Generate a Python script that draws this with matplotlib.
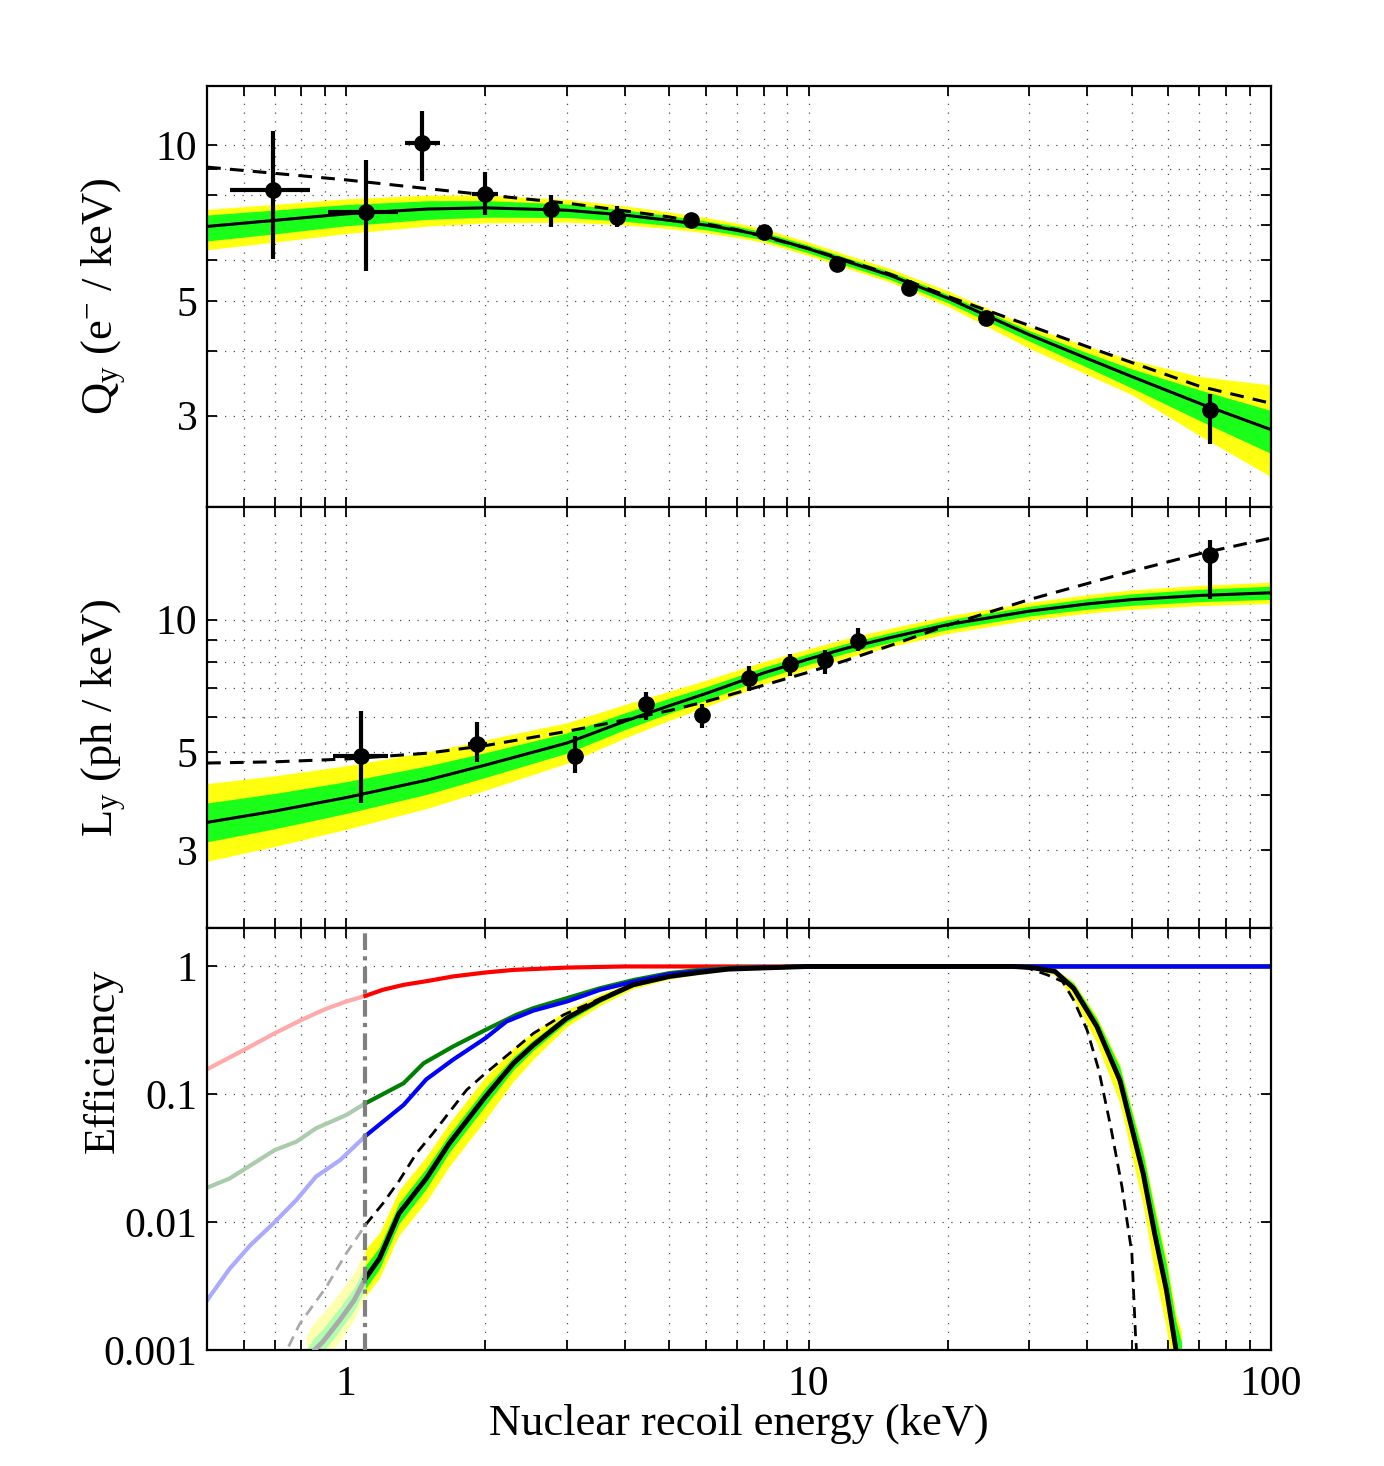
import numpy as np
import matplotlib
matplotlib.use('Agg')
import matplotlib.pyplot as plt

plt.rcParams['font.family'] = ['Liberation Serif', 'DejaVu Serif']
plt.rcParams['mathtext.fontset'] = 'custom'
plt.rcParams['mathtext.rm'] = 'Liberation Serif'
plt.rcParams['mathtext.it'] = 'Liberation Serif:italic'
plt.rcParams['font.size'] = 32

# ---------------- charge yield Qy ----------------
qy_x = [0.696, 1.105, 1.461, 2.0, 2.766, 3.857, 5.56, 8.0, 11.49, 16.5, 24.2, 73.9]
qy_y = [8.19, 7.41, 10.10, 8.03, 7.51, 7.27, 7.17, 6.80, 5.89, 5.29, 4.63, 3.08]
qy_ylo = [6.03, 5.72, 8.50, 7.33, 6.93, 6.93, 6.95, 6.65, 5.78, 5.20, 4.55, 2.65]
qy_yhi = [10.66, 9.36, 11.65, 8.88, 8.01, 7.63, 7.40, 6.95, 6.00, 5.38, 4.72, 3.31]
qy_xlo = [0.561, 0.913, 1.338, 1.866, 2.66, 3.74, 5.56, 8.0, 11.49, 16.5, 24.2, 73.9]
qy_xhi = [0.836, 1.294, 1.598, 2.13, 2.87, 3.97, 5.56, 8.0, 11.49, 16.5, 24.2, 73.9]

qy_fit_x = [0.5, 0.7, 1, 1.5, 2, 3, 4, 5, 6, 7, 8, 10, 12, 15, 20, 30, 40, 50, 70, 100]
qy_fit = [6.96, 7.15, 7.36, 7.52, 7.56, 7.48, 7.32, 7.15, 7.00, 6.84, 6.68, 6.30, 5.97,
          5.60, 5.06, 4.30, 3.87, 3.57, 3.17, 2.82]
# band edges as offsets from the fit, in decades
qy_y2_up = [0.033, 0.031, 0.029, 0.027, 0.025, 0.021, 0.018, 0.016, 0.015, 0.014, 0.013,
            0.013, 0.013, 0.013, 0.014, 0.016, 0.024, 0.032, 0.052, 0.086]
qy_y2_dn = [0.045, 0.042, 0.038, 0.033, 0.029, 0.023, 0.019, 0.016, 0.015, 0.014, 0.013,
            0.013, 0.013, 0.013, 0.016, 0.026, 0.031, 0.035, 0.062, 0.091]
qy_g_up = [0.022, 0.020, 0.018, 0.016, 0.014, 0.012, 0.010, 0.009, 0.008, 0.008, 0.007,
           0.007, 0.007, 0.007, 0.007, 0.008, 0.011, 0.015, 0.026, 0.037]
qy_g_dn = [0.028, 0.026, 0.023, 0.020, 0.018, 0.014, 0.012, 0.010, 0.009, 0.009, 0.008,
           0.008, 0.008, 0.008, 0.009, 0.012, 0.017, 0.022, 0.033, 0.046]
qy_dash_x = [0.5, 1, 2, 3, 4, 5, 7, 10, 15, 20, 30, 40, 50, 70, 100]
qy_dash = [9.06, 8.56, 8.01, 7.72, 7.46, 7.26, 6.86, 6.31, 5.63, 5.10, 4.48, 4.08, 3.80,
           3.42, 3.17]

# ---------------- light yield Ly ----------------
ly_x = [1.078, 1.922, 3.13, 4.45, 5.88, 7.43, 9.11, 10.87, 12.76, 73.9]
ly_y = [4.90, 5.22, 4.90, 6.45, 6.09, 7.37, 7.93, 8.09, 8.93, 14.04]
ly_ylo = [3.84, 4.75, 4.50, 5.93, 5.68, 6.88, 7.46, 7.54, 8.47, 11.16]
ly_yhi = [6.19, 5.85, 5.44, 6.84, 6.42, 7.86, 8.36, 8.55, 9.57, 15.14]
ly_xlo = [0.936, 1.83, 3.03, 4.45, 5.88, 7.43, 9.11, 10.87, 12.76, 73.9]
ly_xhi = [1.231, 2.02, 3.24, 4.45, 5.88, 7.43, 9.11, 10.87, 12.76, 73.9]

ly_fit_x = [0.5, 0.7, 1, 1.5, 2, 3, 4, 5, 6, 8, 10, 12, 15, 20, 30, 40, 50, 70, 100]
ly_fit = [3.47, 3.68, 3.95, 4.33, 4.68, 5.25, 5.88, 6.38, 6.80, 7.57, 8.14, 8.60, 9.10,
          9.74, 10.45, 10.85, 11.10, 11.34, 11.50]
ly_w2 = [0.088, 0.080, 0.072, 0.064, 0.057, 0.046, 0.038, 0.033, 0.030, 0.026, 0.023,
         0.022, 0.021, 0.020, 0.020, 0.021, 0.022, 0.023, 0.024]
ly_w1 = [0.044, 0.040, 0.036, 0.032, 0.028, 0.023, 0.019, 0.017, 0.015, 0.013, 0.012,
         0.011, 0.011, 0.011, 0.011, 0.012, 0.013, 0.014, 0.015]
ly_dash_x = [0.5, 0.7, 1, 1.5, 2, 3, 4, 5, 6, 8, 10, 12, 15, 20, 30, 50, 70, 100]
ly_dash = [4.73, 4.76, 4.83, 4.98, 5.18, 5.58, 5.92, 6.22, 6.52, 7.10, 7.60, 8.07, 8.73,
           9.71, 11.10, 12.87, 14.10, 15.30]

# ---------------- efficiencies ----------------
thr = 1.1
red_x = [0.5, 0.6, 0.7, 0.8, 0.9, 1.0, 1.1, 1.2, 1.33, 1.5, 1.7, 2, 2.3, 3, 4, 100]
red_y = [0.157, 0.222, 0.30, 0.382, 0.463, 0.532, 0.589, 0.657, 0.718, 0.77, 0.835, 0.897,
         0.94, 0.98, 1.0, 1.0]
grn_x = [0.5, 0.56, 0.63, 0.7, 0.78, 0.86, 1.0, 1.1, 1.33, 1.47, 1.7, 2.0, 2.33, 2.54, 3.0,
         3.54, 4.2, 5, 5.8, 7, 10, 100]
grn_y = [0.0186, 0.022, 0.0288, 0.0366, 0.0426, 0.0542, 0.0689, 0.085, 0.122, 0.175, 0.236,
         0.319, 0.418, 0.472, 0.565, 0.676, 0.786, 0.887, 0.94, 0.98, 1.0, 1.0]
blu_x = [0.5, 0.56, 0.62, 0.69, 0.78, 0.86, 0.97, 1.1, 1.33, 1.49, 1.7, 2.0, 2.22, 2.54, 3.0,
         3.54, 4.2, 5, 6, 7, 10, 100]
blu_y = [0.00245, 0.00434, 0.0066, 0.0095, 0.0149, 0.0227, 0.0306, 0.0472, 0.0825, 0.131,
         0.186, 0.275, 0.371, 0.452, 0.532, 0.657, 0.763, 0.871, 0.93, 0.97, 1.0, 1.0]

tot_x = [0.82, 0.854, 0.89, 0.967, 1.04, 1.1, 1.18, 1.30, 1.49, 1.67, 2.0, 2.3, 2.54, 3.0,
         3.54, 4.17, 5.0, 5.8, 6.7, 10, 27.6, 30.4, 34.1, 37.4, 42, 47.1, 52.9, 56, 59.4,
         62.3, 64]
tot_y = [0.0008, 0.001, 0.00116, 0.0017, 0.00245, 0.00362, 0.0052, 0.0117, 0.022, 0.0413,
         0.0959, 0.175, 0.243, 0.394, 0.548, 0.718, 0.835, 0.897, 0.953, 1.0, 1.0, 0.98,
         0.914, 0.676, 0.339, 0.129, 0.024, 0.00815, 0.00293, 0.001, 0.0007]
tot_y2_up = [0.22, 0.22, 0.22, 0.22, 0.22, 0.23, 0.20, 0.18, 0.17, 0.16, 0.155, 0.12, 0.10,
             0.065, 0.045, 0.03, 0.02, 0.015, 0.01, 0.0, 0.0, 0.005, 0.02, 0.05, 0.08,
             0.12, 0.18, 0.22, 0.25, 0.28, 0.3]
tot_y2_dn = [0.20, 0.20, 0.18, 0.16, 0.15, 0.14, 0.15, 0.17, 0.18, 0.18, 0.18, 0.14, 0.11,
             0.065, 0.045, 0.03, 0.02, 0.015, 0.01, 0.0, 0.0, 0.01, 0.03, 0.08, 0.13,
             0.18, 0.25, 0.3, 0.3, 0.3, 0.3]
tot_g_up = [0.10, 0.10, 0.10, 0.10, 0.10, 0.10, 0.09, 0.08, 0.08, 0.07, 0.07, 0.05, 0.04,
            0.03, 0.02, 0.012, 0.008, 0.006, 0.004, 0.0, 0.0, 0.003, 0.015, 0.04, 0.06,
            0.10, 0.15, 0.18, 0.20, 0.22, 0.22]
tot_g_dn = [0.08, 0.08, 0.08, 0.08, 0.08, 0.08, 0.08, 0.08, 0.08, 0.07, 0.07, 0.05, 0.04,
            0.03, 0.02, 0.012, 0.008, 0.006, 0.004, 0.0, 0.0, 0.003, 0.01, 0.02, 0.03,
            0.05, 0.06, 0.08, 0.08, 0.08, 0.08]
dsh_x = [0.72, 0.744, 0.793, 0.905, 1.0, 1.1, 1.2, 1.304, 1.418, 1.54, 1.82, 2.0, 2.3, 2.54,
         2.95, 3.54, 4.17, 5.0, 5.8, 6.7, 10, 27.6, 29.8, 32.8, 35.4, 37.4, 40, 42.4, 45,
         47.6, 50, 50.9, 51.5]
dsh_y = [0.0008, 0.001, 0.0016, 0.0031, 0.0057, 0.0095, 0.014, 0.0213, 0.0345, 0.0495,
         0.108, 0.146, 0.222, 0.30, 0.418, 0.56, 0.725, 0.84, 0.90, 0.955, 1.0, 1.0, 0.97,
         0.86, 0.763, 0.548, 0.319, 0.155, 0.0558, 0.0189, 0.0057, 0.00134, 0.0007]

YEL, GRN = '#FFFF10', '#1AFF1A'
x_minor = [0.6, 0.7, 0.8, 0.9] + list(range(2, 10)) + list(range(20, 100, 10))


def style(ax, ylim, yticks, ylabels):
    ax.set_xscale('log')
    ax.set_yscale('log')
    ax.set_xlim(0.5, 100)
    ax.set_ylim(*ylim)
    ax.set_xticks([1, 10, 100], ['1', '10', '100'])
    ax.set_xticks(x_minor, minor=True)
    ax.set_xticklabels([], minor=True)
    ax.set_yticks(yticks, ylabels)
    ax.yaxis.set_minor_locator(plt.NullLocator())
    ax.tick_params(which='both', direction='in', top=True, right=True,
                   length=7.5, width=1.3, labelsize=30)
    ax.tick_params(axis='x', pad=11)
    ax.tick_params(axis='y', pad=7)
    ax.grid(True, which='both', linestyle=(0, (1, 6)), color='0.3', lw=0.9)
    ax.set_axisbelow(True)
    for s in ax.spines.values():
        s.set_linewidth(1.6)


def band(ax, x, y, w_up, w_dn, color):
    y = np.asarray(y)
    ax.fill_between(x, y * 10 ** np.asarray(w_up), y / 10 ** np.asarray(w_dn),
                    color=color, lw=0)


def points(ax, x, y, ylo, yhi, xlo, xhi):
    x, y = np.asarray(x), np.asarray(y)
    yerr = [y - np.asarray(ylo), np.asarray(yhi) - y]
    xerr = [x - np.asarray(xlo), np.asarray(xhi) - x]
    ax.errorbar(x, y, yerr=yerr, xerr=xerr, fmt='o', color='k', ms=11,
                elinewidth=3, capsize=0, zorder=6)


fig = plt.figure(figsize=(13.84, 14.66), dpi=100)
L, W = 0.1496, 0.7688
ax_q = fig.add_axes([L, 0.6542, W, 0.2872])
ax_l = fig.add_axes([L, 0.3670, W, 0.2872])
ax_e = fig.add_axes([L, 0.0791, W, 0.2879])

# Qy panel
band(ax_q, qy_fit_x, qy_fit, qy_y2_up, qy_y2_dn, YEL)
band(ax_q, qy_fit_x, qy_fit, qy_g_up, qy_g_dn, GRN)
ax_q.plot(qy_fit_x, qy_fit, color='k', lw=2.2, zorder=4)
ax_q.plot(qy_dash_x, qy_dash, color='k', lw=2.2, dashes=(4.5, 3), zorder=4)
points(ax_q, qy_x, qy_y, qy_ylo, qy_yhi, qy_xlo, qy_xhi)
style(ax_q, (2, 13), [3, 4, 5, 6, 7, 8, 9, 10], ['3', '', '5', '', '', '', '', '10'])
ax_q.tick_params(labelbottom=False)
ax_q.set_ylabel(r'Q$_\mathrm{y}$ (e$^{-}$ / keV)')

# Ly panel
band(ax_l, ly_fit_x, ly_fit, ly_w2, ly_w2, YEL)
band(ax_l, ly_fit_x, ly_fit, ly_w1, ly_w1, GRN)
ax_l.plot(ly_fit_x, ly_fit, color='k', lw=2.2, zorder=4)
ax_l.plot(ly_dash_x, ly_dash, color='k', lw=2.2, dashes=(4.5, 3), zorder=4)
points(ax_l, ly_x, ly_y, ly_ylo, ly_yhi, ly_xlo, ly_xhi)
style(ax_l, (2, 18), [3, 4, 5, 6, 7, 8, 9, 10], ['3', '', '5', '', '', '', '', '10'])
ax_l.tick_params(labelbottom=False)
ax_l.set_ylabel(r'L$_\mathrm{y}$ (ph / keV)')


# efficiency panel, drawn pale below the threshold
def two_tone(ax, x, y, full, pale, **kw):
    x, y = np.asarray(x), np.asarray(y)
    lo, hi = x <= thr, x >= thr
    ax.plot(x[lo], y[lo], color=pale, **kw)
    ax.plot(x[hi], y[hi], color=full, **kw)


def two_tone_band(ax, x, y, up, dn, full, pale):
    x, y = np.asarray(x), np.asarray(y)
    up, dn = np.asarray(up), np.asarray(dn)
    for m, c in ((x <= thr, pale), (x >= thr, full)):
        ax.fill_between(x[m], y[m] * 10 ** up[m], y[m] / 10 ** dn[m], color=c, lw=0)


two_tone(ax_e, red_x, red_y, '#FF0000', '#FFAAAA', lw=3)
two_tone(ax_e, grn_x, grn_y, '#008000', '#AACCAA', lw=3)
two_tone(ax_e, blu_x, blu_y, '#0000FF', '#AAAAFF', lw=3)
two_tone_band(ax_e, tot_x, tot_y, tot_y2_up, tot_y2_dn, YEL, '#FFFFB0')
two_tone_band(ax_e, tot_x, tot_y, tot_g_up, tot_g_dn, GRN, '#B0FFB0')
two_tone(ax_e, tot_x, tot_y, 'k', '#AAAAAA', lw=3.5, zorder=4)
two_tone(ax_e, dsh_x, dsh_y, 'k', '#AAAAAA', lw=2, dashes=(4, 2.5), zorder=4)
ax_e.axvline(thr, color='0.5', lw=3, dashes=(4, 1.5, 1, 1.5), zorder=5)
style(ax_e, (0.001, 2), [0.001, 0.01, 0.1, 1], ['0.001', '0.01', '0.1', '1'])
ax_e.set_ylabel('Efficiency')
ax_e.set_xlabel('Nuclear recoil energy (keV)')

for ax, yc in ((ax_q, 0.5), (ax_l, 0.5), (ax_e, 0.685)):
    ax.yaxis.label.set_va('baseline')
    ax.yaxis.set_label_coords(-0.088, yc)
ax_e.xaxis.label.set_va('baseline')
ax_e.xaxis.set_label_coords(0.5, -0.201)

fig.savefig('out.png', dpi=100)
